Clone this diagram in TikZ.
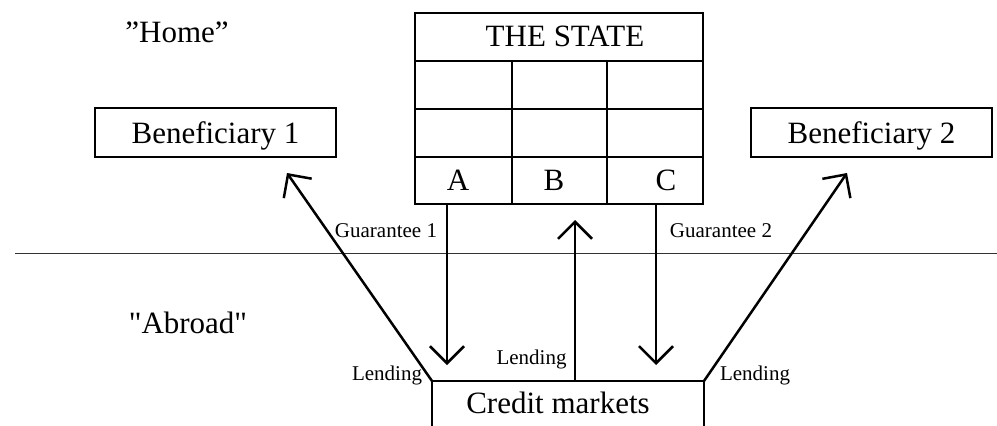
\documentclass[tikz,border=0pt]{standalone}
\usepackage{fontspec}
\setmainfont{Liberation Serif}
\newfontfamily\rawserif{Liberation Serif}
\usetikzlibrary{arrows.meta}
\begin{document}
\begin{tikzpicture}[x=1pt,y=-1pt,
  thickline/.style={line width=2.5pt},
  benbox/.style={draw, line width=2.5pt, minimum width=241pt, minimum height=49pt, inner sep=0pt,
    font=\fontsize{31}{36}\selectfont, text height=21pt, text depth=0pt},
  big/.style={font=\fontsize{31}{36}\selectfont, inner sep=0pt, anchor=base},
  small/.style={font=\fontsize{21}{24}\selectfont, inner sep=0pt, anchor=base},
  flow/.style={line width=2.5pt, -{Straight Barb[length=17pt,width=34pt]}},
]
\useasboundingbox (0,0) rectangle (997,426);

% divider
\draw[line width=1pt, black!80] (15,253) coordinate (divL) -- (997,253) coordinate (divR);

% the state table
\node[draw, line width=2.5pt, minimum width=288pt, minimum height=191pt, inner sep=0pt] (state) at (559,108.5) {};
\draw[thickline] (415,61) -- (703,61);
\draw[thickline] (415,109) -- (703,109);
\draw[thickline] (415,157) -- (703,157);
\draw[thickline] (512,61) -- (512,204);
\draw[thickline] (607,61) -- (607,204);
\node[big] (title) at (565,46) {THE STATE};
\node[big] (cA) at (458,190) {A};
\node[big] (cB) at (554,190) {B};
\node[big] (cC) at (666,190) {C};

% beneficiaries
\node[benbox] (ben1) at (215.5,132.5) {Beneficiary 1};
\node[benbox] (ben2) at (871.5,132.5) {Beneficiary 2};

% region labels
\node[big] (home) at (177,42) {”Home”};
\node[big, font=\rawserif\fontsize{31}{36}\selectfont] (abroad) at (188,333) {"Abroad"};

% credit markets (open box)
\coordinate (cmBL) at (432,426);
\coordinate (cmTL) at (432,381);
\coordinate (cmTR) at (704,381);
\coordinate (cmBR) at (704,426);
\draw[thickline] (cmBL) -- (cmTL) -- (cmTR) -- (cmBR);
\node[big] (credit) at (558,413) {Credit markets};

% connectors
\coordinate (aTop) at (447,204);
\coordinate (aEnd) at (447,365);
\coordinate (cTop) at (656,204);
\coordinate (cEnd) at (656,365);
\coordinate (bBot) at (575,381);
\coordinate (bEnd) at (575,220);
\coordinate (b1tip) at (287,173);
\coordinate (b2tip) at (847,173);
\draw[flow] (aTop) -- (aEnd);
\draw[flow] (cTop) -- (cEnd);
\draw[flow] (bBot) -- (bEnd);
\draw[flow] (cmTL) -- (b1tip);
\draw[flow] (cmTR) -- (b2tip);

% small labels
\node[small] (g1) at (386,237) {Guarantee 1};
\node[small] (g2) at (721,237) {Guarantee 2};
\node[small] (l1) at (387,380) {Lending};
\node[small] (l2) at (531.5,364) {Lending};
\node[small] (l3) at (755,380) {Lending};
\end{tikzpicture}
\end{document}
